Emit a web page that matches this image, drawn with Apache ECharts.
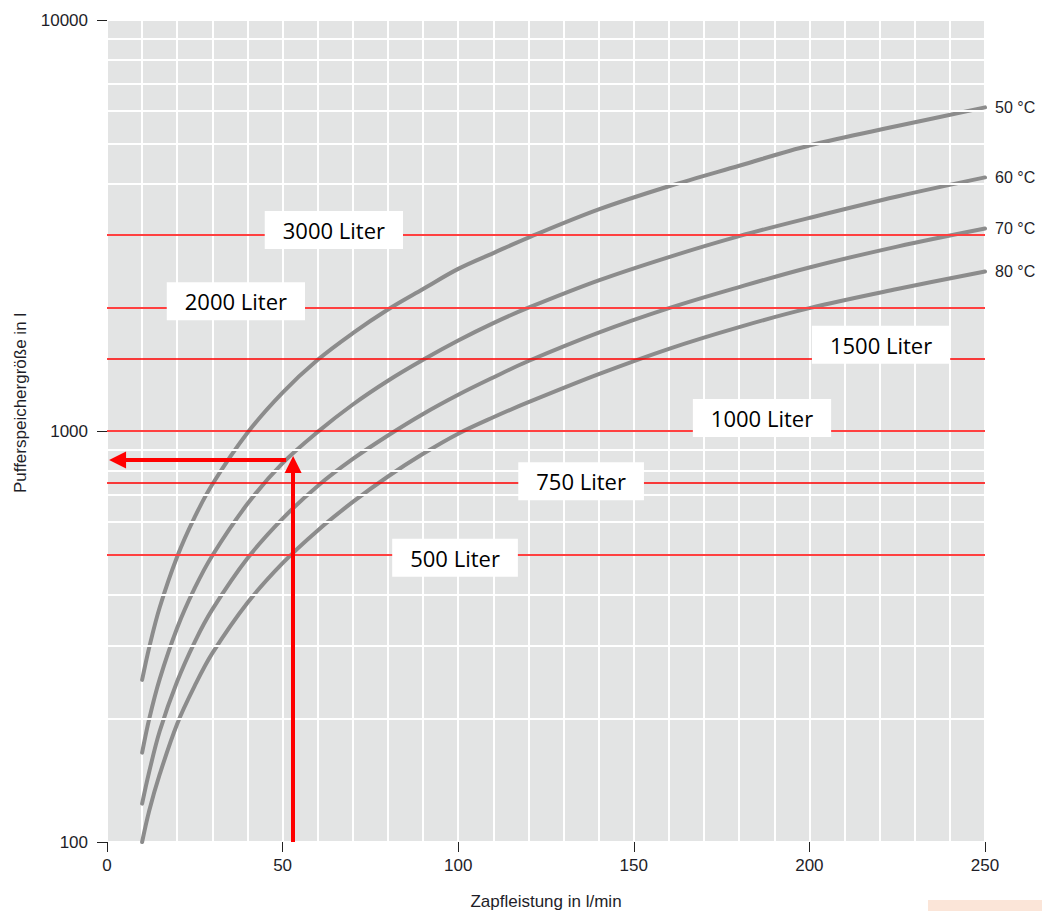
<!DOCTYPE html>
<html lang="de">
<head>
<meta charset="utf-8">
<title>Pufferspeichergröße nach Zapfleistung</title>
<script src="https://cdn.jsdelivr.net/npm/echarts@6/dist/echarts.min.js"></script>
<style>
  html, body { margin: 0; padding: 0; background: #ffffff; }
  #chart { width: 1042px; height: 911px; }
</style>
</head>
<body>
<div id="chart"></div>
<script>
// Zapfleistung (l/min) at which the curves are sampled
const flow = [10, 12, 15, 20, 25, 30, 40, 50, 60, 70, 80, 90, 100, 110, 120, 140, 160, 180, 200, 225, 250];

// Required buffer volume (l) per storage temperature
const vol50 = [248, 297, 372, 495, 618, 742, 990, 1240, 1490, 1730, 1975, 2215, 2480, 2710, 2955, 3460, 3940, 4420, 4950, 5520, 6130];
const vol60 = [165, 199, 249, 332, 415, 498, 665, 835, 995, 1160, 1325, 1490, 1660, 1830, 1995, 2325, 2650, 2980, 3300, 3720, 4140];
const vol70 = [124, 148, 186, 246, 307, 368, 490, 612, 735, 855, 975, 1100, 1225, 1350, 1480, 1735, 1990, 2240, 2500, 2810, 3110];
const vol80 = [100, 119, 146, 194, 240, 288, 382, 477, 573, 672, 775, 880, 985, 1080, 1175, 1375, 1585, 1790, 1990, 2215, 2445];

const curveNames = ['50 °C', '60 °C', '70 °C', '80 °C'];

// Standard tank sizes (l) drawn as reference lines
const tankSizes = [3000, 2000, 1500, 1000, 750, 500];

// Worked example: read-off flow (l/min) and resulting volume (l)
const readFlow = 53;
const readVolume = 850;

// Minor log gridlines of the volume axis
const yMinorGrid = [200, 300, 400, 500, 600, 700, 800, 900, 2000, 3000, 4000, 5000, 6000, 7000, 8000, 9000];

// Placement of the tank-size boxes: flow position and vertical pixel shift
const tankLabelFlow = [64.6, 36.7, 220.4, 186.5, 135, 99.1];
const tankLabelShift = [-5, -6, -14, -13, -1, 3];

const GREY = '#8c8c8c';
const RED = '#ff0000';
const TEXT = '#1e1e28';
const FONT = '"Liberation Sans", Arial, sans-serif';

const chart = echarts.init(document.getElementById('chart'), null, { renderer: 'svg' });

const volumes = [vol50, vol60, vol70, vol80];

const curveSeries = volumes.map((vals, i) => ({
  name: curveNames[i],
  type: 'line',
  data: flow.map((f, j) => [f, vals[j]]),
  smooth: 0.35,
  showSymbol: false,
  silent: true,
  z: 4,
  lineStyle: { color: GREY, width: 4, cap: 'round' },
  endLabel: {
    show: true,
    formatter: '{a}',
    distance: 10,
    color: TEXT,
    fontSize: 16,
    fontFamily: FONT
  }
}));

const option = {
  animation: false,
  backgroundColor: '#ffffff',
  grid: {
    left: 107, right: 57, top: 20, bottom: 69,
    outerBoundsMode: 'none',
    containLabel: false,
    show: true,
    backgroundColor: '#e3e4e4',
    borderWidth: 0
  },
  xAxis: {
    type: 'value',
    min: 0, max: 250, interval: 50,
    name: 'Zapfleistung in l/min',
    nameLocation: 'middle',
    nameGap: 51,
    nameTextStyle: { color: TEXT, fontSize: 17, fontFamily: FONT },
    axisLine: { show: false },
    axisTick: { show: true, length: 10, lineStyle: { color: '#222', width: 1 } },
    axisLabel: { color: TEXT, fontSize: 17, fontFamily: FONT, margin: 15 },
    splitLine: { show: true, lineStyle: { color: '#ffffff', width: 2 } },
    minorTick: { show: false, splitNumber: 5 },
    minorSplitLine: { show: true, lineStyle: { color: '#ffffff', width: 2 } }
  },
  yAxis: {
    type: 'log',
    logBase: 10,
    min: 100, max: 10000,
    axisLine: { show: false },
    axisTick: { show: true, length: 10, lineStyle: { color: '#222', width: 1 } },
    axisLabel: {
      color: TEXT, fontSize: 17, fontFamily: FONT, margin: 19,
      formatter: v => String(Math.round(v))
    },
    splitLine: { show: true, lineStyle: { color: '#ffffff', width: 2 } },
    minorTick: { show: false },
    minorSplitLine: { show: false }
  },
  graphic: [
    {
      type: 'text',
      x: 20, y: 403,
      rotation: Math.PI / 2,
      style: {
        text: 'Pufferspeichergröße in l',
        fill: TEXT,
        font: '17px ' + FONT,
        align: 'center',
        verticalAlign: 'middle'
      }
    },
    {
      type: 'rect',
      shape: { x: 928, y: 900, width: 114, height: 11 },
      style: { fill: '#fbe5d8' }
    }
  ],
  series: [
    // white minor gridlines of the log axis
    {
      type: 'line',
      data: [],
      silent: true,
      z: 1,
      markLine: {
        silent: true,
        symbol: ['none', 'none'],
        label: { show: false },
        lineStyle: { color: '#ffffff', width: 2, type: 'solid' },
        emphasis: { disabled: true },
        data: yMinorGrid.map(v => ({ yAxis: v }))
      }
    },
    ...curveSeries,
    // tank-size reference lines
    {
      type: 'line',
      data: [],
      silent: true,
      z: 5,
      markLine: {
        silent: true,
        symbol: ['none', 'none'],
        label: { show: false },
        lineStyle: { color: RED, width: 1.5, type: 'solid' },
        emphasis: { disabled: true },
        data: tankSizes.map(v => ({ yAxis: v }))
      }
    },
    // tank-size boxes
    {
      type: 'scatter',
      silent: true,
      z: 6,
      symbolSize: 0,
      itemStyle: { opacity: 1 },
      data: tankSizes.map((v, i) => ({
        value: [tankLabelFlow[i], v],
        label: { offset: [0, tankLabelShift[i]] }
      })),
      label: {
        show: true,
        position: 'inside',
        formatter: p => p.value[1] + ' Liter',
        color: '#000000',
        opacity: 1,
        fontSize: 22,
        fontFamily: '"Open Sans", "Noto Sans", sans-serif',
        lineHeight: 24,
        backgroundColor: '#ffffff',
        padding: [7, 18]
      }
    },
    // worked-example arrows
    {
      type: 'line',
      data: [],
      silent: true,
      z: 7,
      markLine: {
        silent: true,
        symbol: ['none', 'triangle'],
        symbolSize: 17,
        label: { show: false },
        lineStyle: { color: RED, width: 4, type: 'solid' },
        itemStyle: { color: RED },
        emphasis: { disabled: true },
        data: [
          [{ coord: [readFlow, 100] }, { coord: [readFlow, readVolume * 0.975] }],
          [{ coord: [readFlow - 2, readVolume] }, { coord: [3, readVolume] }]
        ]
      }
    }
  ]
};

chart.setOption(option);
</script>
</body>
</html>
